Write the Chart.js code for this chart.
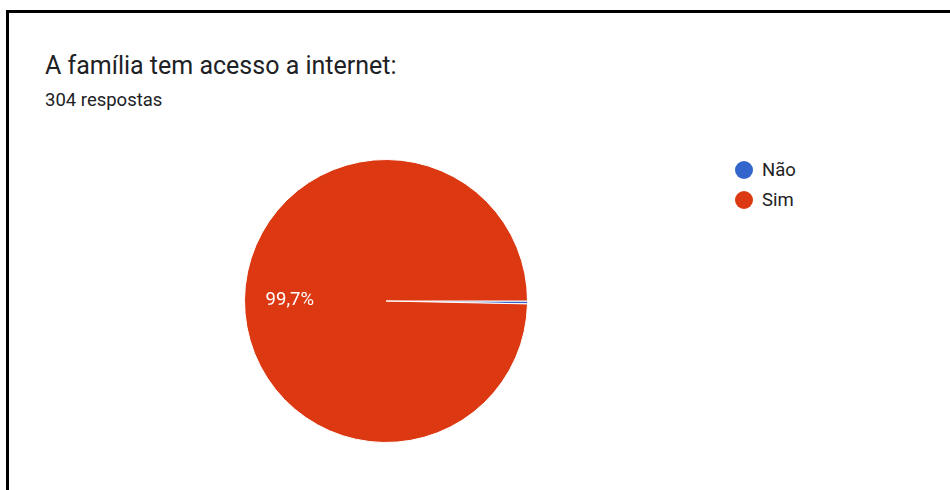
<!DOCTYPE html>
<html>
<head>
<meta charset="utf-8">
<script src="https://cdn.jsdelivr.net/npm/chart.js@4/dist/chart.umd.min.js"></script>
<style>
  html, body { margin: 0; padding: 0; background: #fff; }
  body { width: 950px; height: 490px; position: relative; overflow: hidden; font-family: Roboto, "Noto Sans", Arial, sans-serif; }
  .frame { position: absolute; left: 6px; top: 10px; width: 944px; height: 480px; border-left: 3px solid #000; border-top: 3px solid #000; box-sizing: border-box; }
  .title { position: absolute; left: 45px; top: 50px; font-size: 25px; color: #202124; white-space: nowrap; line-height: 32px; }
  .subtitle { position: absolute; left: 45px; top: 89px; font-size: 18.5px; color: #202124; white-space: nowrap; line-height: 22px; }
  .pie { position: absolute; left: 244px; top: 159px; width: 284px; height: 284px; }
  .legend { position: absolute; left: 735px; top: 155px; margin: 0; padding: 0; list-style: none; }
  .legend li { display: flex; align-items: center; height: 30px; font-size: 18.5px; color: #222; }
  .legend .dot { width: 18px; height: 18px; border-radius: 50%; margin-right: 9px; }
</style>
</head>
<body>
<div class="frame"></div>
<div class="title">A família tem acesso a internet:</div>
<div class="subtitle">304 respostas</div>
<div class="pie"><canvas id="chart"></canvas></div>
<ul class="legend" id="legend"></ul>
<script>
const categories = ['Não', 'Sim'];
const responses = [1, 303];
const sliceColors = ['#3366CC', '#DC3912'];

// Percentage labels written inside each slice large enough to hold one
const percentLabels = {
  id: 'percentLabels',
  afterDatasetsDraw(chart) {
    const { ctx } = chart;
    const data = chart.data.datasets[0].data;
    const total = data.reduce((a, b) => a + b, 0);
    chart.getDatasetMeta(0).data.forEach((arc, i) => {
      const share = data[i] / total;
      if (share < 0.05) return;
      const { x, y, startAngle, endAngle, outerRadius } = arc.getProps(['x', 'y', 'startAngle', 'endAngle', 'outerRadius'], true);
      const mid = (startAngle + endAngle) / 2;
      const r = outerRadius * 0.68;
      const text = (share * 100).toFixed(1).replace('.', ',') + '%';
      ctx.save();
      ctx.fillStyle = '#ffffff';
      ctx.font = '18.5px Roboto, "Noto Sans", Arial, sans-serif';
      ctx.textAlign = 'center';
      ctx.textBaseline = 'middle';
      ctx.fillText(text, x + Math.cos(mid) * r, y + Math.sin(mid) * r);
      ctx.restore();
    });
  }
};

const chart = new Chart(document.getElementById('chart'), {
  type: 'pie',
  data: {
    labels: categories,
    datasets: [{
      data: responses,
      backgroundColor: sliceColors,
      borderColor: '#ffffff',
      borderWidth: 1,
      hoverOffset: 0
    }]
  },
  options: {
    responsive: true,
    maintainAspectRatio: false,
    animation: false,
    rotation: 90,
    layout: { padding: 0 },
    plugins: {
      legend: { display: false },
      tooltip: { enabled: false }
    }
  },
  plugins: [percentLabels]
});

// Legend list built from the chart's own labels and colours
const legendEl = document.getElementById('legend');
chart.data.labels.forEach((label, i) => {
  const li = document.createElement('li');
  const dot = document.createElement('span');
  dot.className = 'dot';
  dot.style.background = chart.data.datasets[0].backgroundColor[i];
  li.appendChild(dot);
  li.appendChild(document.createTextNode(label));
  legendEl.appendChild(li);
});
</script>
</body>
</html>
